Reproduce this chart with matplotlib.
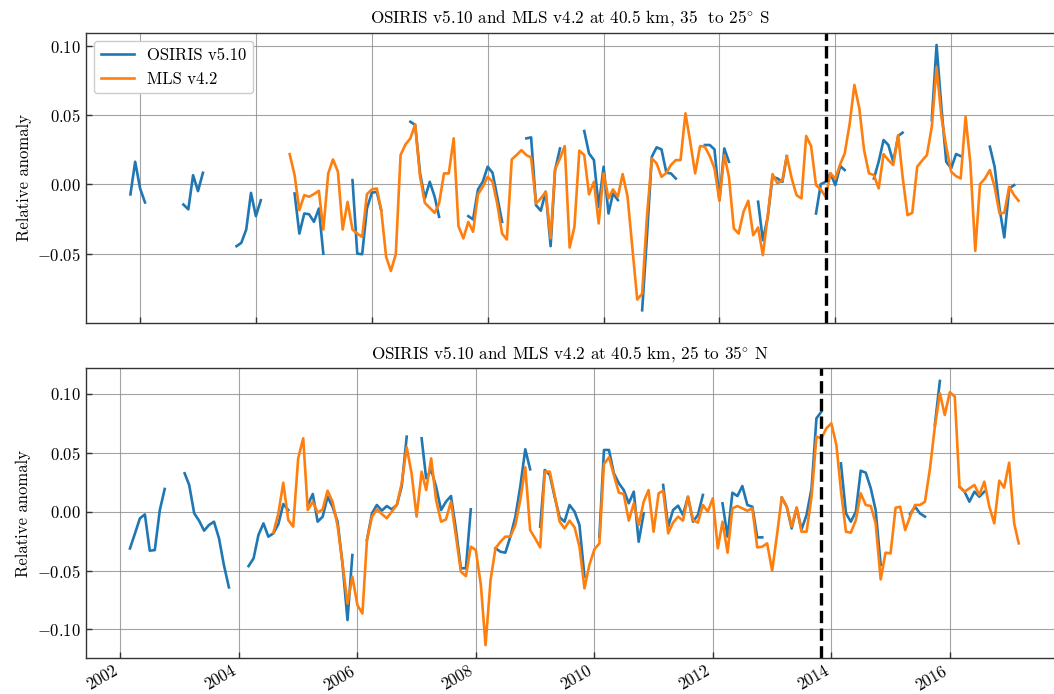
import numpy as np
import matplotlib
matplotlib.use("Agg")
import matplotlib.pyplot as plt
import matplotlib.dates as mdates
from matplotlib.ticker import MultipleLocator

# monthly relative anomalies
# each series is a list of (first month, values) pieces; gaps between pieces are missing data

sh_osiris_starts = ["2001-11", "2002-10", "2003-09", "2004-09", "2005-09", "2006-09",
                    "2007-09", "2008-09", "2009-09", "2010-09", "2011-10", "2012-09",
                    "2013-09", "2014-09", "2015-09", "2016-09"]
sh_osiris_vals = [
    [-0.0072, 0.0164, -0.0029, -0.013],
    [-0.0145, -0.018, 0.0067, -0.0048, 0.0084],
    [-0.0446, -0.0422, -0.0326, -0.0061, -0.0229, -0.0114],
    [-0.0065, -0.0355, -0.021, -0.0215, -0.027, -0.0174, -0.05],
    [0.0031, -0.05, -0.0504, -0.0174, -0.006, -0.0053, -0.0186],
    [0.0453, 0.043, 0.008, -0.0101, 0.0019, -0.0089, -0.0234],
    [-0.0229, -0.0253, -0.0036, 0.0019, 0.0128, 0.0084, -0.0089, -0.027],
    [0.0333, 0.034, -0.015, -0.019, -0.0053, -0.0446, 0.0104, 0.026],
    [0.0386, 0.0224, 0.0176, -0.0162, 0.0128, -0.021, -0.0065, -0.0113],
    [-0.0909, -0.038, 0.02, 0.0268, 0.0253, 0.0084, 0.008, 0.0043],
    [0.0285, 0.0285, 0.0253, -0.0113, 0.026, 0.0164],
    [-0.0125, -0.0403, -0.0234, 0.0055, 0.0043, 0.0019, 0.0205],
    [-0.021, 0.0002, 0.0019, 0.008, -0.0005, 0.0133, 0.0104],
    [0.0043, 0.0164, 0.0321, 0.0285, 0.0164, 0.035, 0.0374],
    [0.0466, 0.1008, 0.055, 0.0164, 0.0116, 0.022, 0.0205],
    [0.0273, 0.0128, -0.0174, -0.0383, -0.0029, -0.0005],
]

sh_mls_start = "2004-08"
sh_mls_vals = [
    0.0219, 0.0067, -0.0186, -0.0077, -0.0089,
    -0.0070, -0.0046, -0.0326, 0.0079, 0.0181, 0.0092, -0.0326, -0.0126, -0.0326, -0.0355, -0.0379, -0.0070,
    -0.0036, -0.0029, -0.0186, -0.0523, -0.0625, -0.0504, 0.0212, 0.0289, 0.0333, 0.0434, 0.0055, -0.0133,
    -0.0169, -0.0205, -0.0137, 0.008, 0.008, 0.0333, -0.0301, -0.039, -0.027, -0.0342, -0.0072, -0.0017,
    0.0055, 0.0019, -0.0137, -0.0355, -0.0398, 0.0181, 0.0212, 0.0248, 0.0212, 0.0195, -0.0137, -0.0101,
    -0.0053, -0.039, 0.0109, 0.0188, 0.0277, -0.0456, -0.0306, 0.0244, 0.0212, -0.0072, 0.0019, -0.0282,
    0.008, -0.0101, -0.0036, -0.0089, 0.0075, -0.0089, -0.0451, -0.0832, -0.0789, -0.0234, 0.0188, 0.0152,
    0.0055, 0.0084, 0.014, 0.0176, 0.0176, 0.0514, 0.0309, 0.008, 0.0277, 0.0273, 0.0205, 0.0116,
    -0.0118, 0.0212, 0.0055, -0.0318, -0.0355, -0.0198, -0.0118, -0.0367, -0.0311, -0.0511, -0.0222, 0.0075,
    0.0007, 0.0031, 0.0205, 0.0043, -0.0077, -0.0101, 0.035, 0.0277, -0.0005, -0.0036, -0.0089, 0.008,
    0.0043, 0.0147, 0.0224, 0.0437, 0.0719, 0.055, 0.0248, 0.008, 0.0068, -0.0029, 0.0219, 0.0176,
    0.014, 0.0357, 0.0055, -0.0222, -0.0205, 0.0128, 0.0171, 0.0212, 0.0417, 0.0847, 0.0485, 0.0273,
    0.0092, 0.006, 0.0043, 0.049, 0.0152, -0.048, 0.0002, 0.0043, 0.0104, -0.0017, -0.021, -0.0205,
    -0.0017, -0.0077, -0.0118,
]

nh_osiris_starts = ["2002-03", "2003-02", "2004-03", "2005-03", "2006-03", "2007-02",
                    "2008-05", "2009-02", "2010-02", "2011-03", "2012-03", "2013-03",
                    "2014-03", "2015-05", "2015-10", "2016-03"]
nh_osiris_vals = [
    [-0.0312, -0.0184, -0.0057, -0.0023, -0.0331, -0.0326, 0.0014, 0.0193],
    [0.0326, 0.0227, -0.0014, -0.0076, -0.0161, -0.0113, -0.0085, -0.0227, -0.0453, -0.0643],
    [-0.0462, -0.0396, -0.0198, -0.0099, -0.0212, -0.0184, -0.0105, 0.0065, 0.0014],
    [0.0057, 0.015, -0.0085, -0.0042, 0.0127, 0.0042, -0.0085, -0.0439, -0.092, -0.0368],
    [-0.024, -0.0014, 0.0057, 0.0009, 0.0048, 0.002, 0.0057, 0.0213, 0.0637],
    [0.0623, 0.0283, 0.0354, 0.0213, 0.0014, 0.0085, 0.0133, -0.0156, -0.048, -0.048, 0.002],
    [-0.031, -0.034, -0.0348, -0.0212, -0.0042, 0.0212, 0.053, 0.036],
    [-0.0127, 0.0354, 0.0312, 0.0127, -0.0048, -0.0085, 0.0057, 0.0, -0.0113, -0.0552],
    [-0.0212, 0.0524, 0.0524, 0.0326, 0.0241, 0.0184, 0.0071, 0.017, -0.0255, -0.0014],
    [0.0227, -0.0127, 0.0014, 0.0051, -0.0028, 0.0127, -0.0085, -0.0028, 0.0142],
    [0.0071, -0.0212, 0.0161, 0.0133, 0.0218, 0.0057, 0.0042, -0.0218, -0.0218],
    [0.012, 0.0042, -0.0142, 0.003, -0.015, -0.0028, 0.0198, 0.0793, 0.085],
    [0.041, -0.0014, -0.0085, 0.0, 0.0348, 0.0331, 0.0198, 0.0014, -0.0453],
    [-0.002, 0.0042, -0.0014, -0.0042],
    [0.0736, 0.111],
    [0.0212, 0.017, 0.0085, 0.017, 0.0127, 0.017],
]

nh_mls_start = "2004-08"
nh_mls_vals = [
    -0.0178, -0.0014, 0.0246, -0.0071, -0.0127,
    0.0453, 0.0623, 0.0014, 0.0085, -0.0008, 0.002, 0.0178, 0.0085, -0.0122, -0.0439, -0.078, -0.0552,
    -0.0793, -0.0864, -0.024, -0.0042, 0.002, -0.002, -0.0056, 0.0, 0.0057, 0.024, 0.0547, 0.0326,
    -0.0042, 0.034, 0.0184, 0.0453, 0.0099, -0.0085, -0.0065, 0.0085, -0.0212, -0.051, -0.0547, -0.0297,
    -0.0326, -0.062, -0.1133, -0.0581, -0.0312, -0.0255, -0.0212, -0.0212, -0.0113, 0.0099, 0.0377, -0.0156,
    -0.0227, -0.0303, 0.034, 0.034, 0.0142, -0.0085, -0.0142, -0.0076, -0.0133, -0.0297, -0.0651, -0.0453,
    -0.032, -0.0269, 0.0405, 0.0462, 0.0312, 0.0161, 0.015, -0.0076, 0.0071, -0.0113, 0.0085, 0.0184,
    -0.017, 0.0156, 0.0178, -0.0184, -0.0093, -0.0042, -0.0076, 0.0127, -0.0071, -0.0093, 0.0057, 0.0,
    0.0113, -0.0311, -0.0085, -0.0348, 0.0028, 0.0048, 0.0028, 0.0008, 0.0028, -0.0303, -0.0297, -0.0269,
    -0.0501, -0.0184, 0.0122, 0.0042, -0.0127, 0.0037, -0.017, -0.017, 0.0127, 0.0637, 0.0623, 0.0708,
    0.075, 0.0566, 0.018, -0.017, -0.0178, -0.0071, 0.0156, 0.0057, 0.0048, -0.0099, -0.0575, -0.0348,
    -0.0354, 0.0034, 0.0042, -0.0156, -0.0042, 0.0057, 0.0057, 0.0085, 0.0368, 0.0722, 0.1005, 0.0821,
    0.1014, 0.0977, 0.0212, 0.017, 0.0198, 0.0227, 0.0142, 0.0255, 0.0042, -0.0099, 0.0263, 0.0204,
    0.0416, -0.0099, -0.0269,
]

event_date = "2013-11"
titles = ["OSIRIS v5.10 and MLS v4.2 at 40.5 km, 35  to 25$^{\\circ}$ S",
          "OSIRIS v5.10 and MLS v4.2 at 40.5 km, 25 to 35$^{\\circ}$ N"]


def to_series(starts, pieces):
    # put the pieces on one monthly axis, NaN in between so the line breaks
    first = min(np.datetime64(s, "M") for s in starts)
    last = max(np.datetime64(s, "M") + len(p) - 1 for s, p in zip(starts, pieces))
    months = np.arange(first, last + 1)
    vals = np.full(len(months), np.nan)
    for s, p in zip(starts, pieces):
        i = int(np.datetime64(s, "M") - first)
        vals[i:i + len(p)] = p
    return months.astype("datetime64[D]"), vals


plt.rcParams["font.family"] = "serif"
plt.rcParams["font.serif"] = ["cmr10", "DejaVu Serif"]
plt.rcParams["mathtext.fontset"] = "cm"
plt.rcParams["axes.formatter.use_mathtext"] = True
plt.rcParams["xtick.direction"] = "in"
plt.rcParams["ytick.direction"] = "in"
plt.rcParams["font.size"] = 12

fig = plt.figure(figsize=(10.54, 6.94), dpi=100)
ax1 = fig.add_axes([0.0813, 0.535, 0.9197, 0.418])
ax2 = fig.add_axes([0.0813, 0.0514, 0.9197, 0.418])

panels = [
    (ax1, sh_osiris_starts, sh_osiris_vals, sh_mls_start, sh_mls_vals,
     ("2001-01-23", "2017-10-17"), (-0.0999, 0.1097)),
    (ax2, nh_osiris_starts, nh_osiris_vals, nh_mls_start, nh_mls_vals,
     ("2001-06-01", "2017-10-11"), (-0.1245, 0.1218)),
]

for k, (ax, o_starts, o_vals, m_start, m_vals, xl, yl) in enumerate(panels):
    d_o, v_o = to_series(o_starts, o_vals)
    d_m, v_m = to_series([m_start], [m_vals])
    ax.plot(d_o, v_o, color="tab:blue", lw=1.9, label="OSIRIS v5.10")
    ax.plot(d_m, v_m, color="tab:orange", lw=1.9, label="MLS v4.2")
    ax.axvline(np.datetime64(event_date + "-01"), color="black", ls="--", lw=2.4)
    ax.set_xlim(np.datetime64(xl[0]), np.datetime64(xl[1]))
    ax.set_ylim(*yl)
    ax.yaxis.set_major_locator(MultipleLocator(0.05))
    ax.xaxis.set_major_locator(mdates.YearLocator(2))
    ax.xaxis.set_major_formatter(mdates.DateFormatter("%Y"))
    ax.grid(True, color="0.55", lw=0.8, alpha=0.8)
    ax.set_axisbelow(True)
    for side in ["top", "bottom", "left", "right"]:
        ax.spines[side].set_color("0.2")
        ax.spines[side].set_linewidth(1.0)
    ax.tick_params(which="major", length=4, width=1, color="0.2", labelsize=12,
                   top=False, right=False)
    ax.set_ylabel("Relative anomaly", fontsize=12)
    ax.set_title(titles[k], fontsize=12.3, pad=7)

ax1.tick_params(labelbottom=False)
for lab in ax2.get_xticklabels():
    lab.set_rotation(30)
    lab.set_ha("right")

ax1.legend(loc="upper left", fontsize=12, framealpha=1, edgecolor="0.8",
           handlelength=2.0, borderaxespad=0.5)

fig.savefig("out.png", dpi=100)
